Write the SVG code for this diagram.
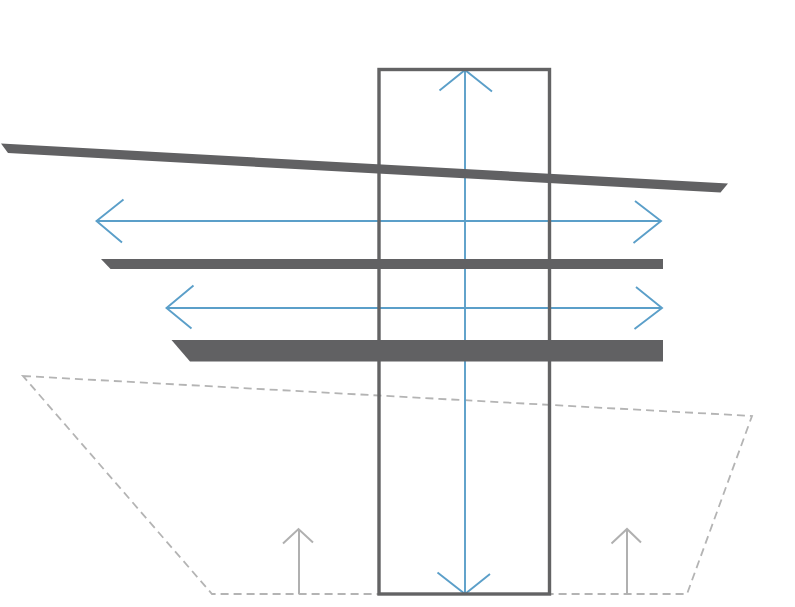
<svg xmlns="http://www.w3.org/2000/svg" width="795" height="607" viewBox="0 0 795 607">
<style>
.beam{fill:#616163;stroke:none}
.frame{fill:none;stroke:#636364;stroke-width:3.4}
.zone{fill:none;stroke:#b4b4b4;stroke-width:1.8;stroke-dasharray:8 5}
.blue{fill:none;stroke:#5b9fc9;stroke-width:1.9}
.grey{fill:none;stroke:#b0b0b0;stroke-width:2}
</style>
<rect width="795" height="607" fill="#fff"/>
<g id="zone"><path class="zone" d="M23 376L752 416L687 594L212 594Z"/></g>
<g id="connectors">
<path class="blue" d="M465 70V594M439.500 90.500L465 70L492 91.500M437.500 572.500L465 594L490 574"/>
<path class="blue" d="M96.500 221H661M123.500 199.500L96.500 221L122 242.500M635 201L661 221L633.500 243"/>
<path class="blue" d="M166.500 308H662M193.500 285.500L166.500 308L191.500 328.500M636 287L662 308L634.500 329"/>
<path class="grey" d="M299 594V529M283 543.500L298.500 529L313 542.500"/>
<path class="grey" d="M627 594V529M611.500 543.500L627 529L641 542.500"/>
</g>
<g id="frame"><rect class="frame" x="379" y="69.500" width="170.500" height="524.500"/></g>
<g id="beam-top"><polygon class="beam" points="1,143.500 728,183.500 720.500,192.500 8,153"/></g>
<g id="beam-middle"><polygon class="beam" points="101,259 663,259 663,269 110.500,269"/></g>
<g id="beam-bottom"><polygon class="beam" points="171.500,340 663,340 663,361.500 190,361.500"/></g>
</svg>
